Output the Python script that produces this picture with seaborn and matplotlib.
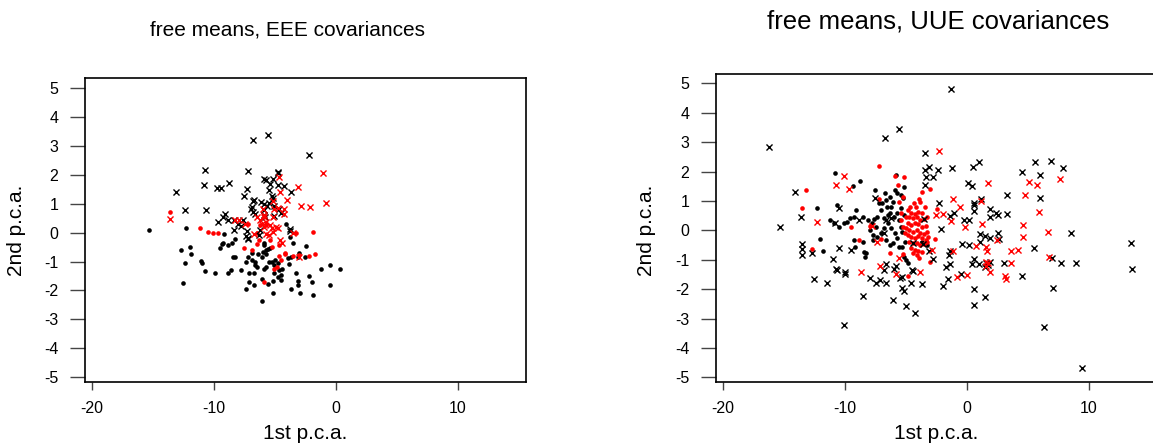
import numpy as np
import pandas as pd
import matplotlib
matplotlib.use('Agg')
import matplotlib.pyplot as plt
import seaborn as sns

# ---- data: (1st p.c.a., 2nd p.c.a.) ----
# left panel: free means, EEE covariances
eee_black_dot = [(-15.32, 0.08), (-12.31, 0.18), (-12.72, -0.59), (-11.96, -0.48), (-11.84, -0.74),
                 (-12.40, -1.05), (-11.05, -0.98), (-10.94, -1.05), (-10.76, -1.32), (-9.94, -1.41),
                 (-12.57, -1.73), (-9.50, -0.54), (-9.36, -0.40), (-9.21, -0.37), (-9.15, -0.06),
                 (-8.86, -0.43), (-8.51, -0.35), (-8.30, -0.20), (-8.39, -0.83), (-8.25, -0.83),
                 (-8.60, -1.29), (-8.80, -1.39), (-7.75, -1.29), (-7.37, -1.00), (-7.16, -0.85),
                 (-6.90, -0.95), (-6.61, -1.00), (-6.37, -0.75), (-6.05, -0.83), (-5.94, -0.66),
                 (-5.76, -0.60), (-5.56, -0.58), (-5.41, -0.52), (-5.85, -0.43), (-5.88, -0.35),
                 (-6.84, -0.69), (-6.61, -1.13), (-7.08, -1.41), (-6.67, -1.41), (-7.08, -1.70),
                 (-7.37, -1.94), (-6.70, -1.82), (-6.02, -1.60), (-5.56, -1.76), (-5.12, -1.67),
                 (-4.74, -1.52), (-4.47, -1.64), (-5.12, -2.10), (-6.08, -2.37), (-4.77, -1.06),
                 (-4.97, -0.95), (-5.09, -1.11), (-4.44, -1.24), (-3.83, -1.09), (-3.95, -0.89),
                 (-3.71, -0.83), (-4.06, 0.29), (-3.77, -0.14), (-3.54, -0.35), (-2.43, -0.45),
                 (-2.51, -0.83), (-3.13, -0.83), (-3.04, -0.69), (-3.25, -1.39), (-3.10, -1.67),
                 (-3.13, -1.82), (-3.71, -1.94), (-2.92, -2.08), (-1.93, -1.70), (-1.87, -2.16),
                 (-2.22, -1.49), (-1.23, -1.26), (-0.44, -1.13), (-0.47, -1.80), (0.38, -1.24),
                 (-5.76, -0.72), (-5.47, -1.01), (-5.23, -1.01), (-5.03, -1.41), (-4.62, -1.29),
                 (-4.53, -1.47), (-6.43, -1.18), (-5.88, -1.27), (-5.73, -1.18)]
eee_red_dot = [(-13.57, 0.72), (-11.11, 0.18), (-10.44, 0.03), (-10.06, -0.02), (-9.62, -0.02),
               (-7.51, -0.52), (-6.90, -0.60), (-6.49, -0.40), (-6.29, -0.25), (-5.41, -0.25),
               (-5.20, -0.48), (-4.68, -0.44), (-4.65, -0.81), (-4.15, -0.72), (-3.54, -0.81),
               (-2.98, -0.77), (-2.22, -0.81), (-1.73, -0.73), (-1.87, 0.03), (-5.09, -1.24),
               (-4.80, -1.18), (-5.85, -1.70), (-7.16, 0.32), (-4.47, -0.95), (-4.18, -0.69),
               (-3.27, 0.00), (-5.76, 0.27), (-6.20, 0.27), (-6.49, -0.02)]
eee_black_cross = [(-5.56, 3.38), (-6.75, 3.21), (-2.16, 2.68), (-10.73, 2.18), (-7.19, 2.15),
                   (-4.77, 2.11), (-4.71, 2.06), (-10.79, 1.67), (-8.77, 1.74), (-9.74, 1.54),
                   (-9.42, 1.54), (-7.25, 1.51), (-5.88, 1.86), (-5.76, 1.82), (-5.15, 1.86),
                   (-5.41, 1.69), (-4.77, 1.65), (-4.24, 1.61), (-3.71, 1.40), (-13.13, 1.40),
                   (-7.51, 1.29), (-5.44, 1.47), (-5.23, 1.29), (-5.12, 1.22), (-12.37, 0.80),
                   (-10.64, 0.80), (-6.70, 1.15), (-6.78, 1.10), (-6.84, 0.90), (-6.99, 0.83),
                   (-6.75, 0.73), (-6.64, 0.64), (-6.11, 1.07), (-5.88, 0.98), (-5.67, 0.94),
                   (-5.47, 1.02), (-5.03, 0.92), (-9.62, 0.36), (-9.12, 0.65), (-9.24, 0.55),
                   (-8.83, 0.44), (-8.33, 0.44), (-8.01, 0.32), (-7.60, 0.44), (-7.75, 0.25),
                   (-8.33, 0.09), (-7.28, 0.06), (-7.37, -0.10), (-7.19, -0.17), (-7.16, -0.23),
                   (-5.91, 0.61), (-5.88, 0.80), (-5.79, 0.55), (-5.03, 0.59), (-4.65, 0.83),
                   (-4.47, 0.67), (-6.20, 0.09), (-6.26, -0.08), (-3.74, 0.13), (-3.77, 0.05)]
eee_red_cross = [(-13.63, 0.47), (-1.02, 2.07), (-3.13, 1.57), (-4.59, 1.40), (-4.62, 1.92),
                 (-3.98, 1.15), (-2.89, 0.94), (-2.08, 0.90), (-0.82, 1.02), (-5.15, 1.10),
                 (-4.74, 0.84), (-5.03, 0.83), (-4.24, 0.82), (-4.27, 0.64), (-5.99, 0.81),
                 (-6.49, 0.55), (-6.20, 0.44), (-5.91, 0.55), (-5.76, 0.38), (-5.41, 0.27),
                 (-5.91, 0.21), (-5.26, 0.15), (-4.94, 0.21), (-4.74, 0.15), (-5.18, 0.03),
                 (-5.50, -0.08), (-6.70, -0.03), (-3.51, 0.00), (-4.56, -0.25), (-4.42, -0.35),
                 (-3.01, -0.83), (-7.95, 0.44), (-8.25, 0.44), (-7.43, 0.32), (-5.85, 0.62),
                 (-5.15, 0.55), (-6.05, 0.32), (-5.70, -0.03)]

# right panel: free means, UUE covariances
uue_black_dot = [(-10.85, 1.94), (-9.37, 1.51), (-8.78, 1.69), (-7.51, 1.37), (-10.61, 0.86),
                 (-12.32, 0.75), (-12.06, -0.29), (-11.82, -0.70), (-11.20, 0.35), (-10.91, 0.24),
                 (-10.47, 0.12), (-10.08, 0.24), (-9.87, 0.29), (-9.58, 0.41), (-9.28, 0.44),
                 (-9.08, 0.69), (-9.28, -0.33), (-9.14, -0.56), (-8.55, -0.39), (-8.46, -0.73),
                 (-8.25, -0.78), (-8.37, -0.90), (-8.55, 0.46), (-8.11, 0.35), (-7.81, 0.24),
                 (-7.60, 0.37), (-7.37, 0.46), (-7.07, 0.69), (-6.92, 0.92), (-6.62, 1.03),
                 (-6.71, 1.26), (-6.53, 0.80), (-6.33, 0.58), (-6.18, 0.80), (-6.03, 0.98),
                 (-5.83, 1.88), (-5.74, 0.58), (-5.59, 0.35), (-5.44, 0.12), (-5.29, -0.05),
                 (-5.88, -0.10), (-6.18, 0.07), (-6.47, 0.24), (-6.77, 0.07), (-7.07, -0.10),
                 (-7.37, -0.22), (-7.66, -0.16), (-6.62, -0.33), (-6.33, -0.50), (-6.03, -0.42),
                 (-5.74, -0.27), (-5.59, -0.56), (-5.29, -0.56), (-5.09, -0.39), (-5.15, -0.90),
                 (-5.00, -1.01), (-4.85, -1.10), (-5.74, 1.26), (-5.44, 1.20), (-5.21, 1.09),
                 (-5.15, 1.49), (-5.88, 1.37), (-6.33, 1.15), (-7.22, 0.92), (-5.44, 0.75),
                 (-5.15, 0.52), (-5.94, 0.46), (-6.47, 0.52), (-6.83, 0.41), (-7.42, 0.12),
                 (-7.96, 0.01), (-7.66, -0.33), (-3.67, -0.39), (-3.23, -0.50)]
uue_red_dot = [(-13.18, 1.37), (-13.54, 0.77), (-12.68, -0.65), (-7.19, 2.19), (-5.92, 1.84),
               (-5.15, 1.83), (-5.65, 1.54), (-3.70, 1.30), (-2.99, 1.42), (-3.91, 1.05),
               (-3.47, 0.80), (-2.44, 0.73), (-8.84, -0.33), (-9.49, 0.10), (-7.96, 0.15),
               (-7.07, -0.31), (-6.30, -0.78), (-5.24, -0.82), (-3.91, -0.95), (-3.05, -1.07),
               (-4.85, -1.54), (-2.61, -0.29), (-7.19, 1.05), (-5.59, 0.98), (-5.24, 1.15),
               (-4.85, 0.69), (-4.56, 0.60), (-4.26, 0.56), (-3.97, 0.63), (-3.67, 0.58),
               (-5.00, 0.46), (-4.71, 0.44), (-4.41, 0.41), (-4.12, 0.46), (-3.82, 0.35),
               (-3.53, 0.37), (-4.85, 0.24), (-4.56, 0.18), (-4.26, 0.26), (-3.97, 0.22),
               (-3.67, 0.12), (-3.38, 0.15), (-5.00, 0.07), (-4.71, 0.01), (-4.41, -0.05),
               (-4.12, 0.01), (-3.82, -0.08), (-3.53, -0.12), (-3.23, -0.05), (-4.85, -0.16),
               (-4.56, -0.22), (-4.26, -0.27), (-3.97, -0.19), (-3.67, -0.27), (-3.38, -0.33),
               (-4.71, -0.39), (-4.41, -0.44), (-4.12, -0.42), (-3.82, -0.50), (-3.53, -0.46),
               (-3.23, -0.39), (-4.56, -0.61), (-4.26, -0.67), (-3.97, -0.69), (-3.67, -0.73),
               (-4.41, -0.78), (-4.12, -0.84), (-5.36, 0.58), (-5.21, 0.12), (-5.09, -0.10),
               (-5.44, 0.35), (-3.29, 0.46), (-3.17, -0.22), (-4.65, 0.80), (-4.18, 0.80),
               (-3.82, 0.98), (-4.35, 0.92)]
uue_black_cross = [(-1.28, 4.81), (-16.25, 2.82), (-5.56, 3.44), (-6.74, 3.14), (-3.44, 2.62),
                   (-3.47, 2.07), (-3.14, 2.14), (-2.34, 2.07), (-2.79, 1.80), (-3.38, 1.80),
                   (-3.47, 1.54), (-1.19, 2.11), (0.49, 2.14), (1.02, 2.34), (4.51, 1.97),
                   (5.63, 2.34), (6.90, 2.37), (7.90, 2.11), (5.98, 1.87), (0.08, 1.62),
                   (0.43, 1.52), (3.30, 1.20), (6.04, 1.10), (1.20, 1.05), (0.55, 0.94),
                   (0.55, 0.86), (0.55, 0.67), (-2.31, 0.94), (-1.02, 0.60), (-1.34, 0.49),
                   (-0.22, 0.35), (0.19, 0.35), (-2.14, 0.03), (1.88, 0.71), (1.94, 0.44),
                   (2.38, 0.60), (2.53, 0.52), (3.27, 0.56), (1.08, -0.14), (1.47, -0.19),
                   (1.88, -0.27), (1.05, -0.39), (2.53, -0.08), (2.67, -0.31), (-0.42, -0.46),
                   (0.19, -0.50), (-1.40, -0.69), (5.48, -0.61), (8.52, -0.08), (13.45, -0.43),
                   (13.51, -1.32), (0.58, -0.96), (0.43, -1.15), (0.96, -1.15), (1.61, -1.10),
                   (1.88, -1.07), (3.03, -1.10), (7.73, -1.10), (8.94, -1.10), (6.97, -0.95),
                   (-1.40, -1.16), (-1.69, -1.24), (-0.51, -1.50), (-1.55, -1.66), (-1.96, -1.88),
                   (0.61, -1.98), (1.53, -2.28), (0.61, -2.54), (4.51, -1.55), (7.08, -1.95),
                   (6.31, -3.29), (9.41, -4.67), (1.50, -1.24), (1.73, -1.18),
                   (-14.12, 1.30), (-15.30, 0.10), (-13.60, 0.45), (-13.54, -0.48), (-13.54, -0.62),
                   (-13.54, -0.84), (-12.68, -0.76), (-12.53, -1.66), (-11.49, -1.80), (-10.99, -0.99),
                   (-10.76, -1.32), (-10.64, -1.35), (-10.52, -0.61), (-10.79, 0.24), (-10.52, 0.75),
                   (-10.02, -1.41), (-9.99, -1.50), (-9.49, -0.68), (-8.49, -2.23), (-10.08, -3.22),
                   (-7.93, -1.63), (-7.43, -1.78), (-7.13, -1.69), (-6.77, -1.36), (-6.65, -1.80),
                   (-6.03, -2.37), (-5.50, -1.63), (-5.29, -1.97), (-5.12, -2.05), (-4.97, -2.57),
                   (-4.29, -2.80), (-4.56, -1.78), (-3.70, -1.84), (-4.47, -1.35), (-4.38, -1.39),
                   (-5.94, -1.32), (-5.85, -1.21), (-5.29, -1.59), (-2.76, -0.99), (-3.14, -0.69),
                   (-3.58, -0.46), (-4.41, -0.44), (-6.77, -0.10), (-6.59, 0.35), (-6.18, 0.41),
                   (-8.81, 0.36), (-3.53, 0.37), (-1.46, -0.84), (-6.59, -1.15), (-7.51, 1.09)]
uue_red_cross = [(-2.29, 2.70), (-10.08, 1.84), (-10.76, 1.56), (-9.67, 1.42), (-12.27, 0.28),
                 (1.73, 1.62), (5.07, 1.66), (5.73, 1.56), (7.64, 1.75), (4.80, 1.20),
                 (5.94, 0.63), (-1.11, 1.05), (1.17, 1.00), (-0.54, 0.78), (-1.93, 0.57),
                 (-2.49, 0.52), (-1.28, 0.32), (1.23, 0.20), (-0.19, 0.10), (4.60, 0.18),
                 (4.60, -0.22), (6.66, -0.05), (0.73, -0.53), (1.61, -0.56), (1.67, -0.69),
                 (3.62, -0.71), (4.21, -0.68), (-1.16, -0.71), (6.75, -0.92), (3.59, -1.12),
                 (1.94, -1.41), (1.61, -1.21), (1.76, -1.12), (1.61, -1.07), (3.15, -1.55),
                 (3.21, -1.66), (-0.84, -1.60), (0.05, -1.52), (2.44, -0.33), (-2.82, -0.67),
                 (-7.13, -1.21), (-5.83, -1.47), (-8.69, -1.42), (-7.78, 0.16), (-7.37, -0.39),
                 (-5.59, -0.95), (-3.82, -1.41)]

panels = [
    ('free means, EEE covariances', [eee_black_dot, eee_red_dot], [eee_black_cross, eee_red_cross]),
    ('free means, UUE covariances', [uue_black_dot, uue_red_dot], [uue_black_cross, uue_red_cross]),
]
colors = ['black', '#ff0000']
x_ticks = [-20, -10, 0, 10]
y_ticks = [-5, -4, -3, -2, -1, 0, 1, 2, 3, 4, 5]

sns.set_style('white')
plt.rcParams['font.family'] = ['Liberation Sans', 'DejaVu Sans']
plt.rcParams['axes.unicode_minus'] = False
plt.rcParams['text.color'] = 'black'
plt.rcParams['xtick.color'] = 'black'
plt.rcParams['ytick.color'] = 'black'

W, H = 1153, 444
fig = plt.figure(figsize=(W / 100, H / 100), dpi=100)

# axes boxes in pixels: left, top, right, bottom
boxes = [(84.6, 78, 526, 382), (715.7, 74.3, 1157, 382)]
title_xy = [(288, 30), (938, 22)]
title_size = [15, 18.5]
ylabel_x = [17, 647]
ylims = [(-5.17, 5.36), (-5.16, 5.31)]

for i, (title, dots, crosses) in enumerate(panels):
    l, t, r, b = boxes[i]
    ax = fig.add_axes([l / W, (H - b) / H, (r - l) / W, (b - t) / H])
    for pts, c in zip(dots, colors):
        df = pd.DataFrame(pts, columns=['pc1', 'pc2'])
        sns.scatterplot(data=df, x='pc1', y='pc2', ax=ax, color=c, marker='o', s=11, linewidth=0)
    for pts, c in zip(crosses, colors):
        df = pd.DataFrame(pts, columns=['pc1', 'pc2'])
        sns.scatterplot(data=df, x='pc1', y='pc2', ax=ax, color=c, marker='x', s=19, linewidth=1.0)
    ax.set_xlim(-20.6, 15.6)
    ax.set_ylim(*ylims[i])
    ax.set_xticks(x_ticks)
    ax.set_yticks(y_ticks)
    ax.tick_params(axis='y', left=True, length=11, width=1, pad=8, labelsize=11.5,
                   color='#444444')
    ax.tick_params(axis='x', bottom=True, length=6, width=1, pad=8, labelsize=11.5,
                   color='#444444')
    for sp in ax.spines.values():
        sp.set_visible(True)
        sp.set_color('black')
        sp.set_linewidth(1.2)
    ax.set_xlabel('')
    ax.set_ylabel('')
    cx = (l + r) / 2
    fig.text(title_xy[i][0] / W, 1 - title_xy[i][1] / H, title, ha='center', va='center',
             fontsize=title_size[i])
    fig.text(cx / W, 1 - 433 / H, '1st p.c.a.', ha='center', va='center', fontsize=15)
    fig.text(ylabel_x[i] / W, 1 - 230 / H, '2nd p.c.a.', ha='center', va='center',
             rotation=90, fontsize=15)

fig.savefig('out.png', dpi=100)
